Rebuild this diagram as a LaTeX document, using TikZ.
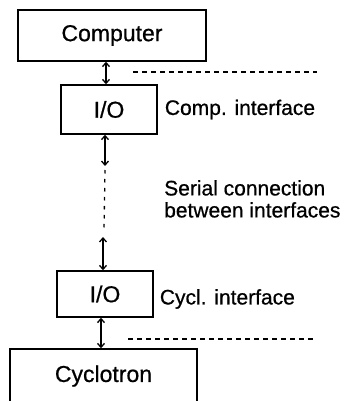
\documentclass[tikz,border=0pt]{standalone}
\usepackage{fontspec}
\setmainfont{Liberation Sans}[FakeBold=0.7]
\usetikzlibrary{positioning}
\usetikzlibrary{arrows.meta}

\begin{document}
\begin{tikzpicture}[
    x=1pt,y=1pt,
    box/.style={rectangle,draw=black,line width=1.4pt,inner sep=0pt,font=\fontsize{23}{26}\selectfont},
    lbl/.style={inner sep=0pt,font=\fontsize{21}{22}\selectfont,align=left},
    arr/.style={line width=1.3pt,{Straight Barb[length=4pt,width=7pt]}-{Straight Barb[length=4pt,width=7pt]}},
    dsh/.style={line width=1.2pt,dash pattern=on 5pt off 4pt},
    dot/.style={line width=1.3pt,dash pattern=on 3.5pt off 5.5pt}
    ]
    \useasboundingbox (0,0) rectangle (353,-401);
    \node (comp) [box,minimum width=188pt,minimum height=51pt] at (112,-35.5) {Computer};
    \node (io1) [box,minimum width=96pt,minimum height=49pt] at (109,-109.5) {I/O};
    \node (io2) [box,minimum width=96pt,minimum height=46pt] at (105,-294) {I/O};
    \node (cyc) [box,minimum width=187pt,minimum height=54pt] at (103.5,-376) {Cyclotron};
    \node (ci) [lbl,right=7pt of io1] {Comp. interface};
    \node (yi) [lbl,right=6pt of io2,yshift=-5pt] {Cycl. interface};
    \node (ser) [lbl,anchor=north west] at (164,-180) {Serial connection\\between interfaces};
    % serial line
    \coordinate (s1) at (105,-166);
    \coordinate (s2) at (105,-170);
    \coordinate (s3) at (104,-230);
    \coordinate (s4) at (103,-237);
    % separators
    \coordinate (d1) at (133,-72);
    \coordinate (d2) at (317,-72);
    \coordinate (d3) at (128,-339);
    \coordinate (d4) at (313,-339);
    \draw[arr] ([xshift=-3pt]io1.north) -- ([xshift=-3pt]io1.north |- comp.south);
    \draw[arr] ([xshift=-4pt]io1.south) -- (s1);
    \draw[dot] (s2) -- (s3);
    \draw[arr] (s4) -- ([xshift=-2pt]io2.north);
    \draw[arr] ([xshift=-4pt]io2.south) -- ([xshift=-4pt]io2.south |- cyc.north);
    \draw[dsh] (d1) -- (d2);
    \draw[dsh] (d3) -- (d4);
\end{tikzpicture}
\end{document}
